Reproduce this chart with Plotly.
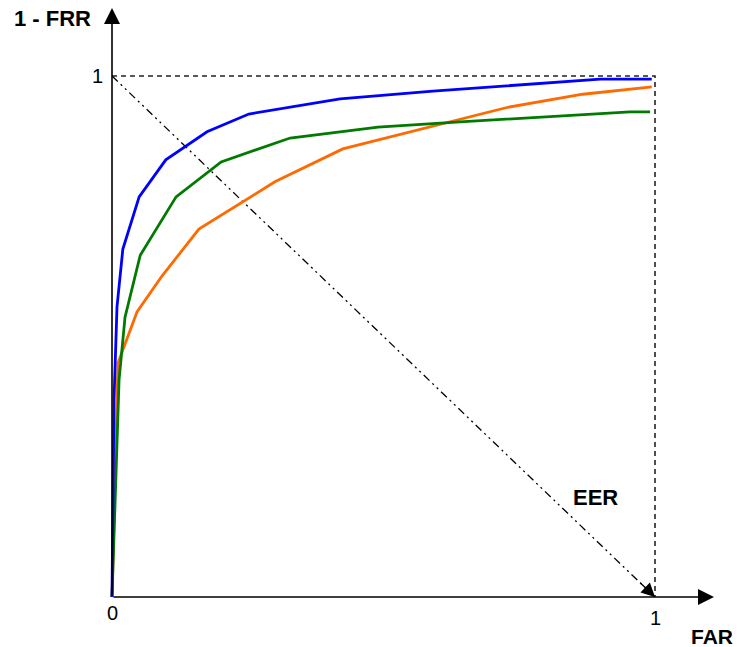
import plotly.graph_objects as go

# ROC-style curves: x = FAR, y = 1 - FRR
blue_far = [0.0, 0.0037, 0.0092, 0.020, 0.050, 0.099, 0.175, 0.252, 0.420, 0.591, 0.899, 0.994]
blue_tpr = [0.0, 0.378, 0.557, 0.668, 0.768, 0.839, 0.893, 0.927, 0.956, 0.971, 0.994, 0.994]

green_far = [0.0, 0.013, 0.024, 0.052, 0.118, 0.201, 0.328, 0.490, 0.641, 0.954, 0.991]
green_tpr = [0.0, 0.417, 0.537, 0.656, 0.768, 0.835, 0.881, 0.902, 0.912, 0.931, 0.931]

orange_far = [0.0, 0.011, 0.046, 0.092, 0.160, 0.300, 0.425, 0.729, 0.867, 0.994]
orange_tpr = [0.0, 0.449, 0.547, 0.616, 0.706, 0.797, 0.860, 0.940, 0.965, 0.979]

diag_x = [0.0, 1.0]
diag_y = [1.0, 0.0]

x_tick_labels = ["0", "1"]
y_tick_labels = ["1"]

W, H = 738, 647
X0_PX, X1_PX = 112, 655
Y0_PX, Y1_PX = 597, 76
sx = X1_PX - X0_PX
sy = Y0_PX - Y1_PX
xr = [-X0_PX / sx, (W - X0_PX) / sx]
yr = [(Y0_PX - H) / sy, Y0_PX / sy]

fig = go.Figure()

# dashed frame lines at 1
fig.add_trace(go.Scatter(x=[0, 1, 1], y=[1, 1, 0], mode="lines",
                         line=dict(color="#222222", width=1.6, dash="5px,4px"),
                         hoverinfo="skip", showlegend=False))
# diagonal EER line
fig.add_trace(go.Scatter(x=diag_x, y=diag_y, mode="lines",
                         line=dict(color="black", width=1.3, dash="8px,4px,2px,4px,2px,4px"),
                         hoverinfo="skip", showlegend=False))

for xs, ys, col in [(orange_far, orange_tpr, "#FF6A00"),
                    (green_far, green_tpr, "#007A00"),
                    (blue_far, blue_tpr, "#0000FF")]:
    fig.add_trace(go.Scatter(x=xs, y=ys, mode="lines",
                             line=dict(color=col, width=2.8),
                             hoverinfo="skip", showlegend=False))

ann = []
# axes with arrows
ann.append(dict(x=0, y=(Y0_PX - 8) / sy, ax=0, ay=0, xref="x", yref="y", axref="x", ayref="y",
                text="", showarrow=True, arrowhead=2, arrowwidth=1.6, arrowsize=2, arrowcolor="black",
                standoff=0, startstandoff=0))
ann.append(dict(x=(714 - X0_PX) / sx, y=0, ax=0, ay=0, xref="x", yref="y", axref="x", ayref="y",
                text="", showarrow=True, arrowhead=2, arrowwidth=1.6, arrowsize=2, arrowcolor="black",
                standoff=0, startstandoff=0))
# diagonal arrowhead
ann.append(dict(x=1, y=0, ax=0.97, ay=0.03, xref="x", yref="y", axref="x", ayref="y",
                text="", showarrow=True, arrowhead=2, arrowwidth=1.3, arrowsize=2.1, arrowcolor="black",
                standoff=0))

font_t = dict(family="Liberation Sans, Arial, sans-serif", size=20, color="black")
font_b = dict(family="Liberation Sans, Arial, sans-serif", size=22, color="black")
font_far = dict(family="Liberation Sans, Arial, sans-serif", size=21, color="black")
# tick labels
ann.append(dict(x=0, y=-16 / sy, xref="x", yref="y", text=x_tick_labels[0], showarrow=False, font=font_t))
ann.append(dict(x=1, y=-21 / sy, xref="x", yref="y", text=x_tick_labels[1], showarrow=False, font=font_t))
ann.append(dict(x=-15 / sx, y=1, xref="x", yref="y", text=y_tick_labels[0], showarrow=False, font=font_t))
# axis titles
ann.append(dict(x=(52 - X0_PX) / sx, y=(Y0_PX - 18) / sy, xref="x", yref="y",
                text="<b>1 - FRR</b>", showarrow=False, font=font_b))
ann.append(dict(x=(735 - X0_PX) / sx, y=(Y0_PX - 636) / sy, xref="x", yref="y",
                xanchor="right", text="<b>FAR</b>", showarrow=False, font=font_far))
ann.append(dict(x=(595 - X0_PX) / sx, y=(Y0_PX - 497) / sy, xref="x", yref="y",
                text="<b>EER</b>", showarrow=False, font=font_b))

fig.update_layout(
    width=W, height=H,
    margin=dict(l=0, r=0, t=0, b=0),
    paper_bgcolor="white", plot_bgcolor="white",
    showlegend=False,
    xaxis=dict(range=xr, visible=False, fixedrange=True),
    yaxis=dict(range=yr, visible=False, fixedrange=True),
    annotations=ann,
)

fig.write_html("out.html")
